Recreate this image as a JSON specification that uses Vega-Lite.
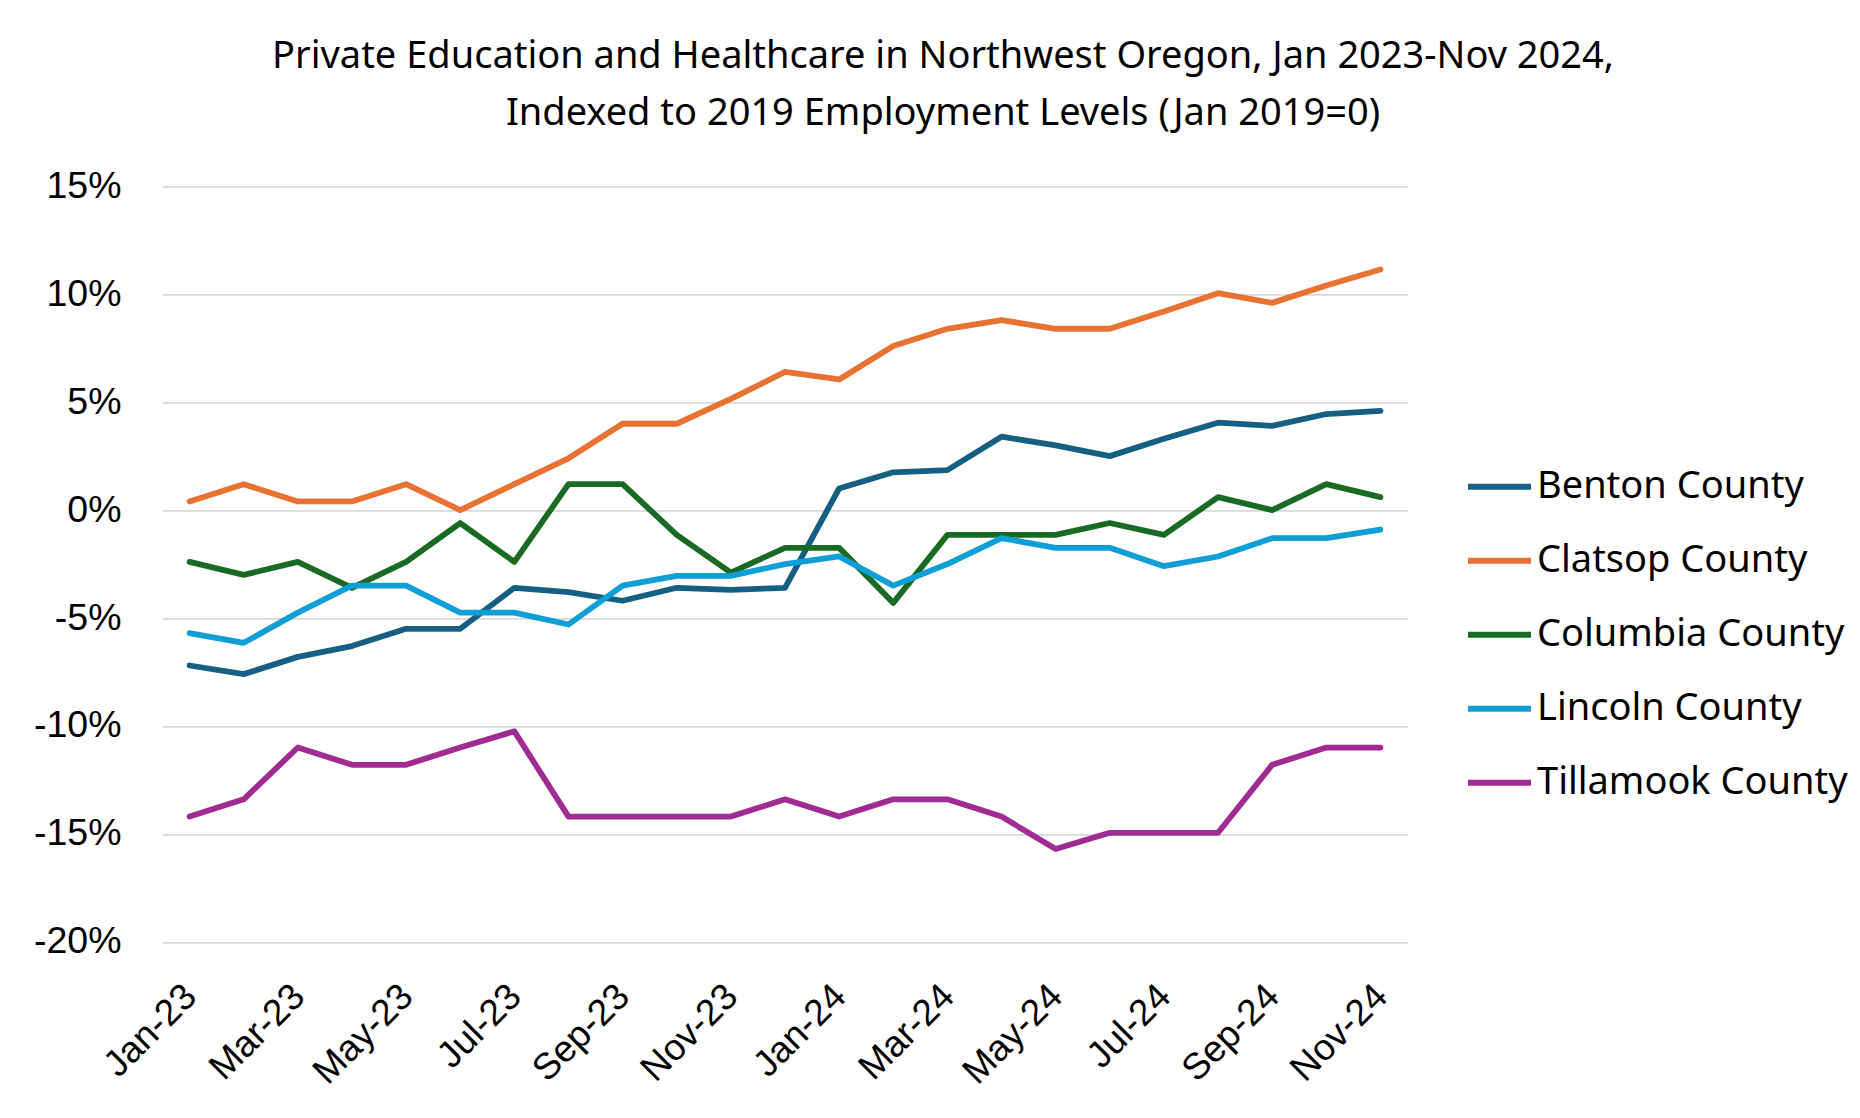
{
  "$schema": "https://vega.github.io/schema/vega-lite/v6.json",
  "width": 1245,
  "height": 755.5,
  "autosize": {"type": "none"},
  "padding": {"left": 162.5, "top": 186.3, "right": 452.5, "bottom": 176.2},
  "background": "white",
  "title": {
    "text": ["Private Education and Healthcare in Northwest Oregon, Jan 2023-Nov 2024,", "Indexed to 2019 Employment Levels (Jan 2019=0)"],
    "anchor": "middle",
    "frame": "group",
    "dx": 158,
    "offset": 34,
    "font": "Noto Sans",
    "fontSize": 38,
    "fontWeight": "normal",
    "color": "#000000",
    "lineHeight": 57
  },
  "data": {
    "values": [
      {"m": "Jan-23", "c": "Benton County", "v": -7.2},
      {"m": "Feb-23", "c": "Benton County", "v": -7.6},
      {"m": "Mar-23", "c": "Benton County", "v": -6.8},
      {"m": "Apr-23", "c": "Benton County", "v": -6.3},
      {"m": "May-23", "c": "Benton County", "v": -5.5},
      {"m": "Jun-23", "c": "Benton County", "v": -5.5},
      {"m": "Jul-23", "c": "Benton County", "v": -3.6},
      {"m": "Aug-23", "c": "Benton County", "v": -3.8},
      {"m": "Sep-23", "c": "Benton County", "v": -4.2},
      {"m": "Oct-23", "c": "Benton County", "v": -3.6},
      {"m": "Nov-23", "c": "Benton County", "v": -3.7},
      {"m": "Dec-23", "c": "Benton County", "v": -3.6},
      {"m": "Jan-24", "c": "Benton County", "v": 1.0},
      {"m": "Feb-24", "c": "Benton County", "v": 1.75},
      {"m": "Mar-24", "c": "Benton County", "v": 1.85},
      {"m": "Apr-24", "c": "Benton County", "v": 3.4},
      {"m": "May-24", "c": "Benton County", "v": 3.0},
      {"m": "Jun-24", "c": "Benton County", "v": 2.5},
      {"m": "Jul-24", "c": "Benton County", "v": 3.3},
      {"m": "Aug-24", "c": "Benton County", "v": 4.05},
      {"m": "Sep-24", "c": "Benton County", "v": 3.9},
      {"m": "Oct-24", "c": "Benton County", "v": 4.45},
      {"m": "Nov-24", "c": "Benton County", "v": 4.6},
      {"m": "Jan-23", "c": "Clatsop County", "v": 0.4},
      {"m": "Feb-23", "c": "Clatsop County", "v": 1.2},
      {"m": "Mar-23", "c": "Clatsop County", "v": 0.4},
      {"m": "Apr-23", "c": "Clatsop County", "v": 0.4},
      {"m": "May-23", "c": "Clatsop County", "v": 1.2},
      {"m": "Jun-23", "c": "Clatsop County", "v": 0.0},
      {"m": "Jul-23", "c": "Clatsop County", "v": 1.2},
      {"m": "Aug-23", "c": "Clatsop County", "v": 2.4},
      {"m": "Sep-23", "c": "Clatsop County", "v": 4.0},
      {"m": "Oct-23", "c": "Clatsop County", "v": 4.0},
      {"m": "Nov-23", "c": "Clatsop County", "v": 5.15},
      {"m": "Dec-23", "c": "Clatsop County", "v": 6.4},
      {"m": "Jan-24", "c": "Clatsop County", "v": 6.05},
      {"m": "Feb-24", "c": "Clatsop County", "v": 7.6},
      {"m": "Mar-24", "c": "Clatsop County", "v": 8.4},
      {"m": "Apr-24", "c": "Clatsop County", "v": 8.8},
      {"m": "May-24", "c": "Clatsop County", "v": 8.4},
      {"m": "Jun-24", "c": "Clatsop County", "v": 8.4},
      {"m": "Jul-24", "c": "Clatsop County", "v": 9.2},
      {"m": "Aug-24", "c": "Clatsop County", "v": 10.05},
      {"m": "Sep-24", "c": "Clatsop County", "v": 9.6},
      {"m": "Oct-24", "c": "Clatsop County", "v": 10.4},
      {"m": "Nov-24", "c": "Clatsop County", "v": 11.15},
      {"m": "Jan-23", "c": "Columbia County", "v": -2.4},
      {"m": "Feb-23", "c": "Columbia County", "v": -3.0},
      {"m": "Mar-23", "c": "Columbia County", "v": -2.4},
      {"m": "Apr-23", "c": "Columbia County", "v": -3.6},
      {"m": "May-23", "c": "Columbia County", "v": -2.4},
      {"m": "Jun-23", "c": "Columbia County", "v": -0.6},
      {"m": "Jul-23", "c": "Columbia County", "v": -2.4},
      {"m": "Aug-23", "c": "Columbia County", "v": 1.2},
      {"m": "Sep-23", "c": "Columbia County", "v": 1.2},
      {"m": "Oct-23", "c": "Columbia County", "v": -1.15},
      {"m": "Nov-23", "c": "Columbia County", "v": -2.9},
      {"m": "Dec-23", "c": "Columbia County", "v": -1.75},
      {"m": "Jan-24", "c": "Columbia County", "v": -1.75},
      {"m": "Feb-24", "c": "Columbia County", "v": -4.3},
      {"m": "Mar-24", "c": "Columbia County", "v": -1.15},
      {"m": "Apr-24", "c": "Columbia County", "v": -1.15},
      {"m": "May-24", "c": "Columbia County", "v": -1.15},
      {"m": "Jun-24", "c": "Columbia County", "v": -0.6},
      {"m": "Jul-24", "c": "Columbia County", "v": -1.15},
      {"m": "Aug-24", "c": "Columbia County", "v": 0.6},
      {"m": "Sep-24", "c": "Columbia County", "v": 0.0},
      {"m": "Oct-24", "c": "Columbia County", "v": 1.2},
      {"m": "Nov-24", "c": "Columbia County", "v": 0.6},
      {"m": "Jan-23", "c": "Lincoln County", "v": -5.7},
      {"m": "Feb-23", "c": "Lincoln County", "v": -6.15},
      {"m": "Mar-23", "c": "Lincoln County", "v": -4.75},
      {"m": "Apr-23", "c": "Lincoln County", "v": -3.5},
      {"m": "May-23", "c": "Lincoln County", "v": -3.5},
      {"m": "Jun-23", "c": "Lincoln County", "v": -4.75},
      {"m": "Jul-23", "c": "Lincoln County", "v": -4.75},
      {"m": "Aug-23", "c": "Lincoln County", "v": -5.3},
      {"m": "Sep-23", "c": "Lincoln County", "v": -3.5},
      {"m": "Oct-23", "c": "Lincoln County", "v": -3.05},
      {"m": "Nov-23", "c": "Lincoln County", "v": -3.05},
      {"m": "Dec-23", "c": "Lincoln County", "v": -2.5},
      {"m": "Jan-24", "c": "Lincoln County", "v": -2.15},
      {"m": "Feb-24", "c": "Lincoln County", "v": -3.5},
      {"m": "Mar-24", "c": "Lincoln County", "v": -2.5},
      {"m": "Apr-24", "c": "Lincoln County", "v": -1.3},
      {"m": "May-24", "c": "Lincoln County", "v": -1.75},
      {"m": "Jun-24", "c": "Lincoln County", "v": -1.75},
      {"m": "Jul-24", "c": "Lincoln County", "v": -2.6},
      {"m": "Aug-24", "c": "Lincoln County", "v": -2.15},
      {"m": "Sep-24", "c": "Lincoln County", "v": -1.3},
      {"m": "Oct-24", "c": "Lincoln County", "v": -1.3},
      {"m": "Nov-24", "c": "Lincoln County", "v": -0.9},
      {"m": "Jan-23", "c": "Tillamook County", "v": -14.2},
      {"m": "Feb-23", "c": "Tillamook County", "v": -13.4},
      {"m": "Mar-23", "c": "Tillamook County", "v": -11.0},
      {"m": "Apr-23", "c": "Tillamook County", "v": -11.8},
      {"m": "May-23", "c": "Tillamook County", "v": -11.8},
      {"m": "Jun-23", "c": "Tillamook County", "v": -11.0},
      {"m": "Jul-23", "c": "Tillamook County", "v": -10.25},
      {"m": "Aug-23", "c": "Tillamook County", "v": -14.2},
      {"m": "Sep-23", "c": "Tillamook County", "v": -14.2},
      {"m": "Oct-23", "c": "Tillamook County", "v": -14.2},
      {"m": "Nov-23", "c": "Tillamook County", "v": -14.2},
      {"m": "Dec-23", "c": "Tillamook County", "v": -13.4},
      {"m": "Jan-24", "c": "Tillamook County", "v": -14.2},
      {"m": "Feb-24", "c": "Tillamook County", "v": -13.4},
      {"m": "Mar-24", "c": "Tillamook County", "v": -13.4},
      {"m": "Apr-24", "c": "Tillamook County", "v": -14.2},
      {"m": "May-24", "c": "Tillamook County", "v": -15.7},
      {"m": "Jun-24", "c": "Tillamook County", "v": -14.95},
      {"m": "Jul-24", "c": "Tillamook County", "v": -14.95},
      {"m": "Aug-24", "c": "Tillamook County", "v": -14.95},
      {"m": "Sep-24", "c": "Tillamook County", "v": -11.8},
      {"m": "Oct-24", "c": "Tillamook County", "v": -11.0},
      {"m": "Nov-24", "c": "Tillamook County", "v": -11.0}
    ]
  },
  "mark": {"type": "line", "strokeWidth": 5.8, "strokeCap": "round", "strokeJoin": "round"},
  "encoding": {
    "x": {
      "field": "m",
      "type": "ordinal",
      "sort": null,
      "scale": {"type": "point", "padding": 0.5, "domain": ["Jan-23","Feb-23","Mar-23","Apr-23","May-23","Jun-23","Jul-23","Aug-23","Sep-23","Oct-23","Nov-23","Dec-23","Jan-24","Feb-24","Mar-24","Apr-24","May-24","Jun-24","Jul-24","Aug-24","Sep-24","Oct-24","Nov-24"]},
      "axis": {
        "title": null,
        "values": ["Jan-23","Mar-23","May-23","Jul-23","Sep-23","Nov-23","Jan-24","Mar-24","May-24","Jul-24","Sep-24","Nov-24"],
        "labelAngle": -45,
        "labelFont": "Liberation Sans",
        "labelFontSize": 37,
        "labelColor": "#000000",
        "labelPadding": 36,
        "labelOffset": -12,
        "ticks": false,
        "domain": false,
        "grid": false
      }
    },
    "y": {
      "field": "v",
      "type": "quantitative",
      "scale": {"domain": [-20, 15], "nice": false, "zero": false},
      "axis": {
        "title": null,
        "values": [-20, -15, -10, -5, 0, 5, 10, 15],
        "labelExpr": "datum.value + '%'",
        "labelFont": "Liberation Sans",
        "labelFontSize": 37.5,
        "labelColor": "#000000",
        "labelPadding": 41.5,
        "ticks": false,
        "domain": false,
        "grid": true,
        "gridColor": "#d9d9d9",
        "gridWidth": 1.8
      }
    },
    "color": {
      "field": "c",
      "type": "nominal",
      "scale": {
        "domain": ["Benton County", "Clatsop County", "Columbia County", "Lincoln County", "Tillamook County"],
        "range": ["#156082", "#E97132", "#196B24", "#0F9ED5", "#A02B93"]
      },
      "legend": {
        "title": null,
        "orient": "none",
        "legendX": 1302.5,
        "legendY": 266,
        "symbolType": "stroke",
        "symbolSize": 3969,
        "symbolStrokeWidth": 6,
        "labelFont": "Noto Sans",
        "labelFontSize": 38,
        "labelColor": "#000000",
        "labelOffset": 3,
        "rowPadding": 20,
        "labelLimit": 400
      }
    }
  },
  "config": {"view": {"stroke": null}}
}
